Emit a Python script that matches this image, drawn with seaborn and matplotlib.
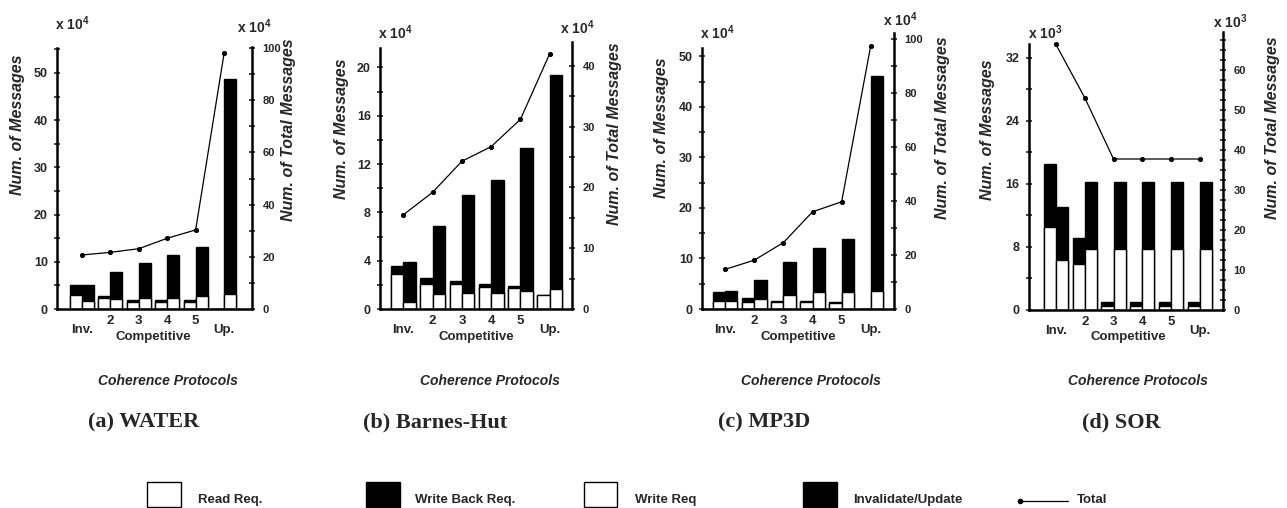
import numpy as np
import pandas as pd
import matplotlib
matplotlib.use("Agg")
import matplotlib.pyplot as plt
import seaborn as sns
from matplotlib.patches import Rectangle
from matplotlib.lines import Line2D
from matplotlib import transforms

# ---------------- data ----------------
protocols = ["Inv.", "2", "3", "4", "5", "Up."]

# (a) WATER  (x 10^4)
water_read = [3.0, 2.4, 1.4, 1.4, 1.4, 0.0]
water_wback = [2.0, 0.45, 0.5, 0.5, 0.5, 0.0]
water_write = [1.6, 2.1, 2.4, 2.4, 2.7, 3.1]
water_inval = [3.4, 5.75, 7.4, 9.0, 10.5, 45.6]
water_total = [20.7, 21.7, 23.1, 27.1, 30.3, 98.0]

# (b) Barnes-Hut  (x 10^4)
bh_read = [2.9, 2.1, 2.05, 1.85, 1.7, 1.15]
bh_wback = [0.7, 0.5, 0.25, 0.25, 0.2, 0.0]
bh_write = [0.55, 1.25, 1.3, 1.35, 1.5, 1.65]
bh_inval = [3.3, 5.6, 8.1, 9.3, 11.8, 17.7]
bh_total = [15.5, 19.2, 24.3, 26.7, 31.2, 42.0]

# (c) MP3D  (x 10^4)
mp_read = [1.5, 1.3, 1.45, 1.3, 1.2, 0.0]
mp_wback = [1.8, 0.9, 0.2, 0.3, 0.25, 0.0]
mp_write = [1.5, 2.0, 2.85, 3.3, 3.4, 3.6]
mp_inval = [2.0, 3.8, 6.4, 8.7, 10.4, 42.6]
mp_total = [14.7, 18.1, 24.6, 36.0, 39.7, 97.5]

# (d) SOR  (x 10^3)
sor_read = [10.6, 5.9, 0.55, 0.55, 0.55, 0.55]
sor_wback = [7.9, 3.3, 0.45, 0.45, 0.45, 0.45]
sor_write = [6.35, 7.7, 7.7, 7.7, 7.7, 7.7]
sor_inval = [6.75, 8.5, 8.5, 8.5, 8.5, 8.5]
sor_total = [66.4, 53.1, 37.75, 37.75, 37.75, 37.75]

titles = ["(a) WATER", "(b) Barnes-Hut", "(c) MP3D", "(d) SOR"]
exponents = [4, 4, 4, 3]
legend_labels = ["Read Req.", "Write Back Req.", "Write Req", "Invalidate/Update", "Total"]

# ---------------- style ----------------
sns.set_style("white")
plt.rcParams['font.family'] = ['Liberation Sans', 'DejaVu Sans']
plt.rcParams['font.weight'] = 'bold'
plt.rcParams['axes.edgecolor'] = 'black'
plt.rcParams['mathtext.fontset'] = 'custom'
plt.rcParams['mathtext.rm'] = 'Liberation Sans:bold'
plt.rcParams['mathtext.bf'] = 'Liberation Sans:bold'
plt.rcParams['mathtext.default'] = 'rm'

W, H = 1287, 508
fig = plt.figure(figsize=(W / 100, H / 100), dpi=100)


def fx(x):
    return x / W


def fy(y):
    return 1 - y / H


data = [
    (water_read, water_wback, water_write, water_inval, water_total),
    (bh_read, bh_wback, bh_write, bh_inval, bh_total),
    (mp_read, mp_wback, mp_write, mp_inval, mp_total),
    (sor_read, sor_wback, sor_write, sor_inval, sor_total),
]

layout = [
    dict(rect=(57, 47, 252, 309), yl=55.5, ylb=55.3, yr=100.4, xlim=(-0.87, 5.98),
         lmaj=10, lmin=5, rmaj=20, rmin=10,
         ylab_l=(17.5, 125), ylab_r=(289, 130), off_l=(55, 24), off_r=(237, 27),
         xlab=(168, 381), cap=(88, 422)),
    dict(rect=(380, 42, 572, 309), yl=22.1, ylb=21.6, yr=43.9, xlim=(-0.8, 5.76),
         lmaj=4, lmin=2, rmaj=10, rmin=5,
         ylab_l=(341.7, 129), ylab_r=(615, 134), off_l=(378, 33), off_r=(560, 28),
         xlab=(490, 381), cap=(363, 422)),
    dict(rect=(702, 33, 894, 309), yl=54.65, ylb=51.6, yr=102.2, xlim=(-0.8, 5.8),
         lmaj=10, lmin=5, rmaj=20, rmin=10,
         ylab_l=(661.7, 128), ylab_r=(942, 128), off_l=(700, 33), off_r=(883, 20),
         xlab=(811, 381), cap=(718, 422)),
    dict(rect=(1028.5, 32, 1223, 310), yl=35.3, ylb=33.75, yr=69.5, xlim=(-0.95, 5.8),
         lmaj=8, lmin=4, rmaj=10, rmin=2.5,
         ylab_l=(988, 130), ylab_r=(1273, 128), off_l=(1028, 33), off_r=(1213, 22),
         xlab=(1138, 381), cap=(1082, 422)),
]

for (read, wback, write, inval, total), lay, title, ex in zip(data, layout, titles, exponents):
    l, t, r, b = lay['rect']
    ax = fig.add_axes([fx(l), fy(b), (r - l) / W, (b - t) / H])
    n = len(protocols)
    df = pd.DataFrame({
        'protocol': protocols * 2,
        'bar': ['req'] * n + ['inv'] * n,
        'white': list(read) + list(write),
        'top': [a + c for a, c in zip(read, wback)] + [a + c for a, c in zip(write, inval)],
    })
    common = dict(data=df, x='protocol', hue='bar', order=protocols, hue_order=['req', 'inv'],
                  edgecolor='black', linewidth=1.0, width=0.84, errorbar=None,
                  legend=False, saturation=1, ax=ax)
    sns.barplot(y='top', palette={'req': 'black', 'inv': 'black'}, **common)
    sns.barplot(y='white', palette={'req': 'white', 'inv': 'white'}, **common)

    ax2 = ax.twinx()
    sns.pointplot(x=protocols, y=total, color='black', markersize=3, linewidth=0.9,
                  errorbar=None, ax=ax2)

    ax.set_xlim(*lay['xlim'])
    ax.set_ylim(0, lay['yl'])
    ax2.set_ylim(0, lay['yr'])
    ax.set_xlabel('')
    ax.set_ylabel('')
    ax2.set_xlabel('')
    ax2.set_ylabel('')

    # x ticks: staggered labels
    ax.set_xticks([1, 2, 3, 4], protocols[1:5])
    ax.set_xticks([0, 5], [protocols[0], protocols[5]], minor=True)
    ax.tick_params(axis='x', which='major', length=0, pad=4, labelsize=9.5)
    ax.tick_params(axis='x', which='minor', length=0, pad=11, labelsize=9.5)

    # left y ticks
    lmaj = np.arange(0, lay['ylb'] + 1e-6, lay['lmaj'])
    lmin = [v for v in np.arange(0, lay['ylb'] + 1e-6, lay['lmin']) if not np.any(np.isclose(v, lmaj))]
    ax.set_yticks(lmaj, [f"{v:g}" for v in lmaj])
    ax.set_yticks(lmin, minor=True)
    ax.tick_params(axis='y', which='both', left=True, direction='inout', width=1.2, labelsize=9, pad=4)
    ax.tick_params(axis='y', which='major', length=5)
    ax.tick_params(axis='y', which='minor', length=4)

    # right y ticks
    rmaj = np.arange(0, lay['yr'] + 1e-6, lay['rmaj'])
    rmin = [v for v in np.arange(0, lay['yr'] + 1e-6, lay['rmin']) if not np.any(np.isclose(v, rmaj))]
    ax2.set_yticks(rmaj, [f"{v:g}" for v in rmaj])
    ax2.set_yticks(rmin, minor=True)
    ax2.tick_params(axis='y', which='both', right=True, direction='inout', width=1.2, labelsize=8, pad=5)
    ax2.tick_params(axis='y', which='major', length=5)
    ax2.tick_params(axis='y', which='minor', length=4)

    for s in ['top', 'right']:
        ax.spines[s].set_visible(False)
    for s in ['top', 'left', 'bottom']:
        ax2.spines[s].set_visible(False)
    ax.spines['left'].set_linewidth(1.8)
    ax.spines['left'].set_bounds(0, lay['ylb'])
    ax.spines['bottom'].set_linewidth(1.8)
    ax2.spines['right'].set_linewidth(1.8)
    ax.grid(False)
    ax2.grid(False)

    trans = transforms.blended_transform_factory(ax.transData, fig.transFigure)
    ax.text(2.5, fy(337), "Competitive", transform=trans, ha='center', va='center',
            fontsize=9.5, fontweight='bold')

    fig.text(fx(lay['ylab_l'][0]), fy(lay['ylab_l'][1]), "Num. of Messages", rotation=90,
             ha='center', va='center', fontsize=11.5, fontweight='bold', style='italic')
    fig.text(fx(lay['ylab_r'][0]), fy(lay['ylab_r'][1]), "Num. of Total Messages", rotation=90,
             ha='center', va='center', fontsize=11.5, fontweight='bold', style='italic')
    fig.text(fx(lay['off_l'][0]), fy(lay['off_l'][1]), f"x 10$^{{{ex}}}$",
             ha='left', va='center', fontsize=10, fontweight='bold')
    fig.text(fx(lay['off_r'][0]), fy(lay['off_r'][1]), f"x 10$^{{{ex}}}$",
             ha='left', va='center', fontsize=10, fontweight='bold')
    fig.text(fx(lay['xlab'][0]), fy(lay['xlab'][1]), "Coherence Protocols",
             ha='center', va='center', fontsize=10, fontweight='bold', style='italic')
    fig.text(fx(lay['cap'][0]), fy(lay['cap'][1]), title, ha='left', va='center',
             fontsize=16, fontweight='bold', family=['Liberation Serif', 'DejaVu Serif'])

# ---------------- legend ----------------
patch_specs = [((147, 181), 'white', 198), ((366, 400), 'black', 415),
               ((584, 617), 'white', 635), ((803, 837), 'black', 853)]
for ((x0, x1), fc, tx), lab in zip(patch_specs, legend_labels[:4]):
    fig.patches.append(Rectangle((fx(x0), fy(507)), (x1 - x0) / W, 25 / H,
                                 transform=fig.transFigure, facecolor=fc,
                                 edgecolor='black', linewidth=1))
    fig.text(fx(tx), fy(500), lab, ha='left', va='center', fontsize=9.5, fontweight='bold')
fig.lines.append(Line2D([fx(1020), fx(1068)], [fy(501), fy(501)], transform=fig.transFigure,
                        color='black', linewidth=0.9))
fig.lines.append(Line2D([fx(1020)], [fy(501)], transform=fig.transFigure, color='black',
                        marker='o', markersize=3, linestyle='none'))
fig.text(fx(1077), fy(500), legend_labels[4], ha='left', va='center', fontsize=9.5, fontweight='bold')

fig.savefig("out.png", dpi=100)
